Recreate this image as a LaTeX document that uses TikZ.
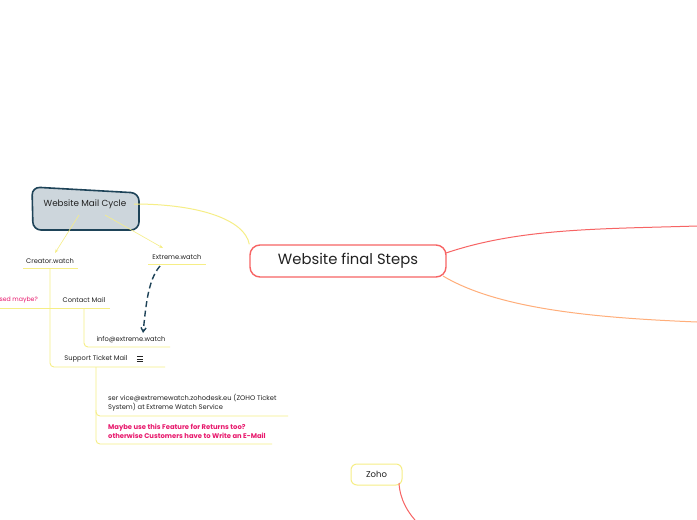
\documentclass[tikz,border=0pt]{standalone}
\usepackage{fontspec}
\setmainfont{Poppins}
\usetikzlibrary{arrows.meta}
\definecolor{yel}{HTML}{F6EE86}
\definecolor{redl}{HTML}{F76464}
\definecolor{orl}{HTML}{FFAE7A}
\definecolor{dark}{HTML}{1E4358}
\definecolor{boxfill}{HTML}{CDD6DC}
\definecolor{txt}{HTML}{222222}
\definecolor{pink}{HTML}{E8186C}
\tikzset{
  small/.style={font=\fontsize{6.7}{7.5}\selectfont, text=txt, inner sep=0pt},
  pinktxt/.style={font=\bfseries\fontsize{6.8}{9}\selectfont, text=pink, inner sep=0pt, align=left},
  yline/.style={draw=yel, line width=0.9pt},
  yarrow/.style={draw=yel, line width=0.6pt, -{Stealth[length=4pt,width=3pt]}},
}
\begin{document}
\begin{tikzpicture}[x=1pt,y=-1pt]
\useasboundingbox (0,0) rectangle (697,520);
\fill[white] (0,0) rectangle (697,520);

% central node
\node[draw=redl, line width=1.4pt, rounded corners=10pt, minimum width=196pt, minimum height=32pt,
      font=\fontsize{14.8}{16}\selectfont, text=txt] (main) at (348,261) {Website final Steps};

% right curves
\coordinate (r1) at (697,226);
\coordinate (r2) at (697,322);
\draw[redl, line width=1pt] (446,253) .. controls (520,228) and (600,229) .. (r1);
\draw[orl, line width=1pt] (443,276) .. controls (500,310) and (600,318) .. (r2);

% Website Mail Cycle box
\path[draw=dark, fill=boxfill, line width=1.6pt, rounded corners=8pt]
  (32,187) -- (139,193) -- (139,230) -- (33,230) -- cycle;
\node[font=\fontsize{8.8}{10}\selectfont, text=txt, inner sep=0pt] (wmc) at (85,204) {Website Mail Cycle};
\coordinate (wmcr) at (134,204);
\draw[yel, line width=1pt] (wmcr) .. controls (200,204) and (245,220) .. (main.north west);

% Creator.watch
\node[small] (cw) at (50,261) {Creator.watch};
\draw[yline] (23,268) -- (78,268);
\draw[yarrow] (79,215) -- (55,253);

% Extreme.watch
\node[small] (ew) at (177,257) {Extreme.watch};
\draw[yline] (148,264) -- (206,264);
\draw[yarrow] (105,215) -- (163,248);

% trunk from Creator.watch
\draw[yline, rounded corners=4pt] (50,268) -- (50,367) -- (165,367);

% Contact Mail
\node[small] (cm) at (84,300) {Contact Mail};
\draw[yline] (50,308) -- (110,308);
\draw[yline] (0,308) -- (50,308);
\node[font=\fontsize{6.2}{7.5}\selectfont, text=pink, inner sep=0pt, anchor=east] (sm) at (38,300) {sed maybe?};

% info@extreme.watch
\draw[yline, rounded corners=4pt] (84,308) -- (84,347) -- (170,347);
\node[small] (info) at (131,340) {info@extreme.watch};

% dashed arrow
\coordinate (da) at (160,266);
\coordinate (db) at (143,333);
\draw[dark, line width=1.4pt, dash pattern=on 6pt off 3.5pt, -{Straight Barb[length=4pt,width=5pt]}]
  (da) .. controls (148,280) and (146,305) .. (db);

% Support Ticket Mail
\node[small] (stm) at (96,359) {Support Ticket Mail};
\node[inner sep=0pt, minimum width=6pt, minimum height=5pt] (ico) at (140,359) {};
\draw[txt, line width=0.5pt] (ico.north west) -- (ico.north east)
  (ico.west) -- (ico.east) (ico.south west) -- (ico.south east);

% service branch
\draw[yline, rounded corners=4pt] (96,367) -- (96,416) -- (288,416);
\draw[yline, rounded corners=4pt] (96,410) -- (96,444) -- (272,444);
\node[small, anchor=north west, align=left, font=\fontsize{6.7}{9.5}\selectfont] (svc) at (108,394)
  {ser vice@extremewatch.zohodesk.eu (ZOHO Ticket\\System) at Extreme Watch Service};
\node[pinktxt, anchor=north west] (may) at (108,424)
  {Maybe use this Feature for Returns too?\\otherwise Customers have to Write an E-Mail};

% Zoho
\node[draw=yel, line width=1pt, rounded corners=6pt, minimum width=51pt, minimum height=21pt,
      font=\fontsize{8.5}{9}\selectfont, text=txt] (zoho) at (376.5,474.5) {Zoho};
\coordinate (zb) at (415,520);
\draw[redl, line width=1pt] (399,483) .. controls (400,500) and (408,512) .. (zb);
\end{tikzpicture}
\end{document}
